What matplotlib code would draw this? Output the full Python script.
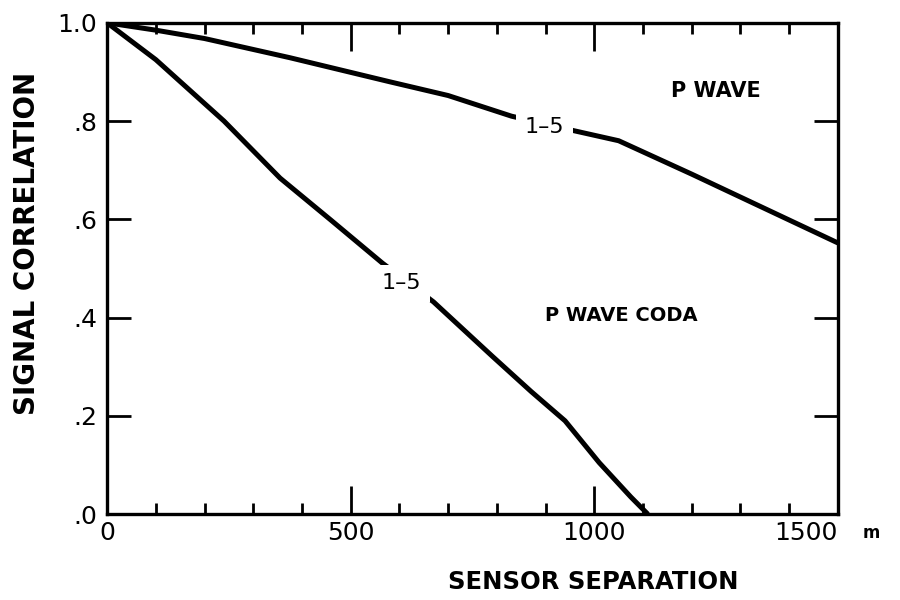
import matplotlib
matplotlib.use("Agg")
import matplotlib.pyplot as plt
from matplotlib.ticker import MultipleLocator, FixedLocator

plt.rcParams['font.family'] = ['DejaVu Sans']

# P wave (upper curve)
p_x = [0, 100, 200, 375, 580, 700, 830, 960, 1050, 1200, 1350, 1500]
p_y = [1.0, 0.985, 0.968, 0.929, 0.880, 0.852, 0.810, 0.780, 0.760, 0.692, 0.622, 0.552]

# P wave coda (lower curve)
coda_x = [0, 100, 240, 355, 460, 565, 670, 790, 870, 940, 1010, 1075, 1110]
coda_y = [1.0, 0.925, 0.800, 0.684, 0.598, 0.511, 0.432, 0.322, 0.250, 0.190, 0.105, 0.035, 0.0]

y_ticks = [0.0, 0.2, 0.4, 0.6, 0.8, 1.0]
y_labels = ['.0', '.2', '.4', '.6', '.8', '1.0']
x_ticks = [0, 500, 1000, 1500]
x_labels = ['0', '500', '1000', '1500']

fig = plt.figure(figsize=(9, 6), dpi=100)
ax = fig.add_axes([0.119, 0.143, 0.812, 0.819])

ax.plot(p_x, p_y, color='black', lw=3.6, solid_capstyle='butt')
ax.plot(coda_x, coda_y, color='black', lw=3.6, solid_capstyle='butt')

# curve labels sit in a gap of the line
box = dict(facecolor='white', edgecolor='none', pad=6)
ax.text(898, 0.787, '1\u20135', fontsize=16, ha='center', va='center', bbox=box, zorder=5)
ax.text(605, 0.470, '1\u20135', fontsize=16, ha='center', va='center', bbox=box, zorder=5)

ax.text(1250, 0.862, 'P WAVE', fontsize=15, fontweight='bold', ha='center', va='center')
ax.text(1055, 0.405, 'P WAVE CODA', fontsize=14, fontweight='bold', ha='center', va='center')

ax.set_xlim(0, 1500)
ax.set_ylim(0, 1.0)
ax.xaxis.set_major_locator(FixedLocator(x_ticks))
ax.set_xticklabels(x_labels)
ax.xaxis.set_minor_locator(MultipleLocator(100))
ax.yaxis.set_major_locator(FixedLocator(y_ticks))
ax.set_yticklabels(y_labels)

ax.tick_params(axis='x', which='major', direction='in', length=20, width=2,
               top=True, bottom=True, labelsize=18, pad=5)
ax.tick_params(axis='x', which='minor', direction='in', length=8, width=2,
               top=True, bottom=True)
ax.tick_params(axis='y', which='major', direction='in', length=17, width=2,
               left=True, right=True, labelsize=18, pad=7)

# last x label moves left to leave room for the unit
ax.get_xticklabels()[-1].set_horizontalalignment('right')

for s in ax.spines.values():
    s.set_linewidth(2.4)

fig.text(0.968, 0.112, 'm', fontsize=12, fontweight='bold', ha='center', va='center')
fig.text(0.659, 0.03, 'SENSOR SEPARATION', fontsize=17.5, fontweight='bold',
         ha='center', va='center')
fig.text(0.03, 0.595, 'SIGNAL CORRELATION', fontsize=20, fontweight='bold',
         ha='center', va='center', rotation=90)

fig.savefig('out.png', dpi=100)
